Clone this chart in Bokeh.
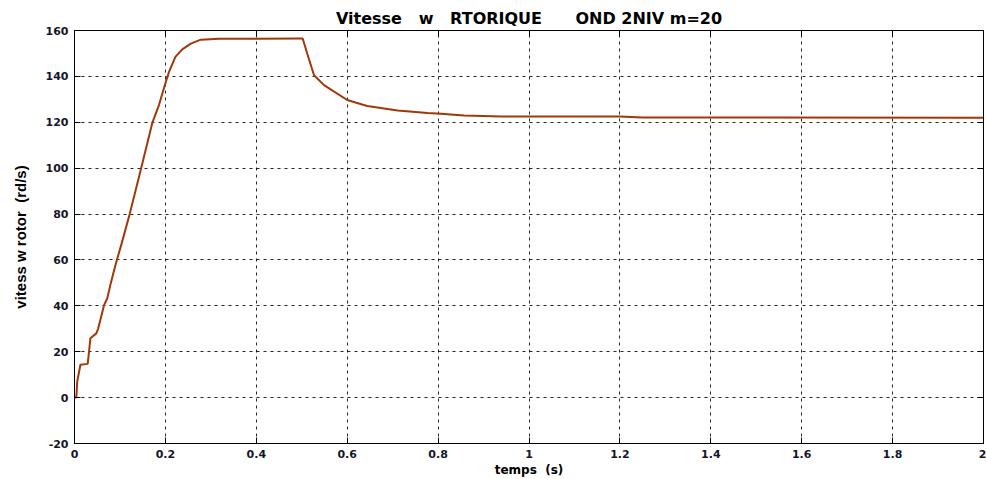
from bokeh.plotting import figure
from bokeh.models import LinearAxis, FixedTicker, CustomJSTickFormatter, Range1d
from bokeh.embed import file_html
from bokeh.resources import INLINE

# Data
t = [0, 0.004, 0.006, 0.013, 0.029, 0.032, 0.035, 0.048, 0.052, 0.065, 0.072,
     0.080, 0.087, 0.094, 0.1035, 0.121, 0.145, 0.171, 0.186, 0.2, 0.208,
     0.222, 0.237, 0.256, 0.278, 0.318, 0.5, 0.502, 0.512, 0.527, 0.549,
     0.6, 0.644, 0.711, 0.777, 0.806, 0.857, 0.94, 1.2, 1.25, 2.0]
w = [0, 0, 7, 14.3, 14.7, 20, 25.9, 28, 30, 40.3, 43.2,
     50, 55.4, 60.5, 67.0, 79.7, 98.7, 119.6, 127.6, 137, 142,
     148.5, 151.8, 154.3, 156, 156.4, 156.5, 156.5, 150, 140.5, 136.2,
     129.7, 127.1, 125.1, 124.0, 123.7, 123.0, 122.5, 122.5, 122.1, 122.0]

x_ticks = [0, 0.2, 0.4, 0.6, 0.8, 1.0, 1.2, 1.4, 1.6, 1.8, 2.0]
y_ticks = [-20, 0, 20, 40, 60, 80, 100, 120, 140, 160]

NB = "\u00a0"
title_text = ("Vitesse" + NB * 2 + " w" + NB * 2 + " RTORIQUE" + NB * 5
              + " OND 2NIV m=20")
x_label = "temps" + NB + " (s)"
y_label = "vitess w rotor" + NB + " (rd/s)"

FONT = "Liberation Sans"
WIDE = "DejaVu Sans"

p = figure(width=986, height=479, output_backend="svg", toolbar_location=None,
           x_range=Range1d(0, 2), y_range=Range1d(-20, 160),
           x_axis_label=x_label, y_axis_label=y_label, title=title_text,
           min_border_left=74, min_border_right=3, min_border_top=30,
           min_border_bottom=33)

p.title.align = "center"
p.title.text_font = WIDE
p.title.text_font_size = "16px"
p.title.text_font_style = "bold"
p.title.text_color = "black"
p.title.standoff = 6

p.outline_line_color = "black"
p.outline_line_width = 1
p.background_fill_color = "white"
p.border_fill_color = "white"

fmt = CustomJSTickFormatter(code="return (Math.round(tick*10)/10).toString();")
blank = CustomJSTickFormatter(code="return '';")

for ax in p.xaxis:
    ax.ticker = FixedTicker(ticks=x_ticks)
    ax.formatter = fmt
for ax in p.yaxis:
    ax.ticker = FixedTicker(ticks=y_ticks)
    ax.formatter = fmt

for ax in p.xaxis + p.yaxis:
    ax.major_tick_in = 6
    ax.major_tick_out = 0
    ax.minor_tick_line_color = None
    ax.axis_line_color = "black"
    ax.major_tick_line_color = "black"
    ax.major_label_text_font = WIDE
    ax.major_label_text_font_size = "11px"
    ax.major_label_text_font_style = "bold"
    ax.major_label_text_color = "#15152a"
    ax.axis_label_text_font_style = "bold"
    ax.axis_label_text_color = "black"

p.xaxis.major_label_standoff = 6
p.xaxis.axis_label_standoff = 2
p.xaxis.axis_label_text_font = WIDE
p.xaxis.axis_label_text_font_size = "12px"
p.yaxis.major_label_standoff = 6
p.yaxis.axis_label_standoff = 14
p.yaxis.axis_label_text_font = FONT
p.yaxis.axis_label_text_font_size = "15px"

# mirrored ticks on top and right
top = LinearAxis(ticker=FixedTicker(ticks=x_ticks), formatter=blank,
                 major_tick_in=6, major_tick_out=0, minor_tick_line_color=None,
                 major_label_standoff=0, axis_line_color="black")
right = LinearAxis(ticker=FixedTicker(ticks=y_ticks), formatter=blank,
                   major_tick_in=6, major_tick_out=0, minor_tick_line_color=None,
                   major_label_standoff=0, axis_line_color="black")
p.add_layout(top, "above")
p.add_layout(right, "right")

p.xgrid.ticker = FixedTicker(ticks=x_ticks)
p.ygrid.ticker = FixedTicker(ticks=y_ticks)
p.grid.grid_line_color = "black"
p.grid.grid_line_dash = "3 4"
p.grid.grid_line_width = 1
p.grid.grid_line_alpha = 0.85

p.line(t, w, line_color="#A0380A", line_width=2)

open("out.html", "w").write(file_html(p, INLINE))
